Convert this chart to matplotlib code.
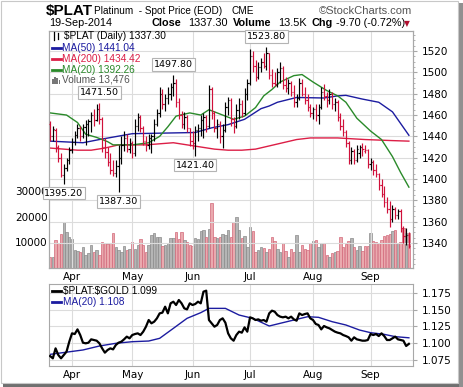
import numpy as np
import pandas as pd
import matplotlib
matplotlib.use("Agg")
import matplotlib.pyplot as plt
from matplotlib.patches import Rectangle
from matplotlib.lines import Line2D

W, H = 464, 387

# ---- data ----
dates = pd.bdate_range("2014-03-20", "2014-09-19")  # 132 sessions
month_names = ["Apr", "May", "Jun", "Jul", "Aug", "Sep"]

opens = [1452, 1440, 1446, 1430, 1420, 1404, 1410, 1418, 1427, 1435,
         1441, 1448, 1440, 1449, 1452, 1454, 1460, 1455, 1466, 1456,
         1430, 1425, 1416, 1408, 1406, 1412, 1420, 1432, 1438, 1428,
         1434, 1424, 1450, 1458, 1448, 1436, 1432, 1438, 1440, 1452,
         1462, 1480, 1470, 1476, 1480, 1486, 1490, 1472, 1460, 1452,
         1458, 1448, 1436, 1434, 1446, 1448, 1455, 1458, 1450, 1484,
         1462, 1448, 1452, 1440, 1446, 1468, 1474, 1456, 1450, 1465,
         1470, 1462, 1480, 1490, 1515, 1506, 1496, 1505, 1510, 1506,
         1518, 1498, 1490, 1489, 1500, 1504, 1488, 1485, 1490, 1482,
         1472, 1476, 1490, 1480, 1474, 1468, 1462, 1466, 1460, 1468,
         1482, 1478, 1474, 1480, 1470, 1472, 1458, 1450, 1444, 1434,
         1418, 1426, 1418, 1424, 1430, 1426, 1427, 1414, 1416, 1408,
         1405, 1394, 1386, 1378, 1372, 1362, 1372, 1366, 1370, 1354,
         1346, 1347]
highs = [1454, 1450, 1448, 1432, 1424, 1414, 1420, 1430, 1438, 1445,
         1452, 1450, 1452, 1455, 1456, 1463, 1466, 1470, 1471.5, 1458,
         1438, 1430, 1424, 1418, 1418, 1432, 1440, 1445, 1442, 1438,
         1436, 1456, 1462, 1460, 1450, 1440, 1442, 1442, 1456, 1466,
         1486, 1484, 1480, 1486, 1490, 1497.8, 1494, 1476, 1464, 1463,
         1460, 1448, 1445, 1450, 1452, 1460, 1462, 1460, 1488, 1486,
         1464, 1456, 1454, 1452, 1472, 1477, 1476, 1458, 1470, 1476,
         1474, 1485, 1494, 1522, 1520, 1512, 1510, 1514, 1518, 1523.8,
         1518, 1503, 1500, 1504, 1510, 1506, 1496, 1494, 1492, 1488,
         1480, 1495, 1494, 1486, 1480, 1470, 1468, 1470, 1470, 1486,
         1489, 1482, 1484, 1482, 1476, 1474, 1462, 1456, 1446, 1436,
         1430, 1428, 1432, 1432, 1434, 1432, 1428, 1420, 1418, 1414,
         1406, 1400, 1393, 1383, 1379, 1376, 1374, 1372, 1372, 1356,
         1354, 1350]
lows = [1436, 1436, 1425, 1416, 1402, 1395.2, 1407, 1414, 1424, 1432,
        1438, 1436, 1438, 1432, 1440, 1444, 1450, 1454, 1452, 1425,
        1420, 1412, 1405, 1403, 1402, 1387.3, 1414, 1426, 1425, 1424,
        1420, 1422, 1445, 1444, 1432, 1426, 1428, 1424, 1436, 1450,
        1458, 1466, 1464, 1470, 1474, 1478, 1468, 1456, 1448, 1447,
        1444, 1431, 1428, 1421.4, 1436, 1440, 1438, 1444, 1448, 1456,
        1444, 1438, 1434, 1429, 1444, 1460, 1450, 1443, 1448, 1456,
        1458, 1460, 1474, 1488, 1500, 1492, 1494, 1500, 1504, 1502,
        1494, 1486, 1487, 1486, 1490, 1484, 1482, 1480, 1478, 1468,
        1468, 1474, 1478, 1470, 1464, 1458, 1456, 1454, 1452, 1466,
        1474, 1468, 1470, 1466, 1464, 1454, 1446, 1440, 1430, 1414,
        1414, 1414, 1416, 1420, 1422, 1424, 1410, 1408, 1404, 1402,
        1390, 1383, 1374, 1368, 1355, 1360, 1362, 1362, 1350, 1340,
        1338, 1335]
closes = [1440, 1447, 1430, 1420, 1404, 1410, 1418, 1427, 1435, 1441,
          1448, 1440, 1449, 1452, 1454, 1460, 1455, 1466, 1456, 1430,
          1425, 1416, 1408, 1406, 1412, 1420, 1432, 1438, 1428, 1434,
          1424, 1450, 1458, 1448, 1436, 1432, 1438, 1440, 1452, 1462,
          1480, 1470, 1476, 1480, 1486, 1490, 1472, 1460, 1452, 1458,
          1448, 1436, 1434, 1446, 1448, 1455, 1458, 1450, 1484, 1462,
          1448, 1452, 1440, 1446, 1468, 1474, 1456, 1450, 1465, 1470,
          1462, 1480, 1490, 1515, 1506, 1496, 1505, 1510, 1506, 1518,
          1498, 1490, 1489, 1500, 1504, 1488, 1485, 1490, 1482, 1472,
          1476, 1490, 1480, 1474, 1468, 1462, 1466, 1460, 1468, 1482,
          1478, 1474, 1480, 1470, 1472, 1458, 1450, 1444, 1434, 1418,
          1426, 1418, 1428, 1430, 1428, 1427, 1414, 1416, 1408, 1405,
          1394, 1386, 1378, 1372, 1362, 1372, 1366, 1370, 1354, 1346,
          1347, 1337.3]
volume = [4440, 4440, 10980, 9670, 13330, 18040, 13980, 12020, 11370, 7060,
          6800, 6400, 8360, 5100, 5750, 9020, 6400, 7060, 5100, 10330,
          9930, 9410, 9930, 13590, 8360, 7060, 6400, 8630, 7060, 7320,
          10330, 7320, 9020, 11370, 9020, 6400, 9020, 12940, 13590, 12290,
          12290, 8630, 9020, 9670, 11630, 11630, 14120, 11500, 14120, 10980,
          10330, 9020, 8630, 11630, 11500, 14250, 14900, 12020, 15160, 25360,
          12020, 11630, 12290, 13330, 12940, 14640, 12290, 18040, 19870, 14900,
          11630, 12550, 8360, 15950, 14510, 6400, 7060, 8360, 7710, 6400,
          7320, 12290, 10720, 7320, 6400, 9670, 6800, 4180, 7320, 6400,
          12810, 6400, 8890, 7580, 7060, 9670, 10720, 10980, 8360, 9670,
          9670, 5100, 4440, 5750, 6400, 6800, 12020, 8360, 9410, 10720,
          11630, 8360, 7060, 8630, 6800, 8630, 8630, 13590, 10720, 10330,
          9930, 10980, 12550, 12810, 13330, 14250, 14900, 9930, 10330, 15550,
          13590, 13476]

# moving averages (session index, value)
ma50_idx = [0, 12, 18, 30, 53, 59, 65, 71, 77, 80, 83, 90, 100, 105, 108, 114, 120, 125, 131]
ma50_val = [1435.5, 1434, 1437, 1442.5, 1443.6, 1448, 1451, 1456, 1466, 1468.5, 1472,
            1476.5, 1476, 1478, 1478.5, 1475, 1472, 1463, 1441.0]
ma200_idx = [0, 10, 15, 20, 25, 35, 45, 50, 55, 60, 65, 70, 75, 80, 85, 90, 95, 105, 115, 125, 131]
ma200_val = [1429, 1427, 1427, 1429, 1432, 1432, 1434, 1432, 1430, 1428, 1427, 1427, 1428,
             1431, 1434, 1437, 1438.5, 1438.5, 1437, 1436, 1435.5]
ma20_idx = [0, 6, 10, 13, 17, 21, 23, 30, 36, 40, 43, 46, 51, 55, 58, 63, 67, 71, 75, 78,
            81, 84, 89, 92, 96, 101, 105, 108, 112, 117, 121, 125, 128, 131]
ma20_val = [1462, 1460, 1453, 1442, 1439, 1435, 1432, 1432, 1434, 1440, 1449, 1459, 1462,
            1460, 1465, 1460, 1456, 1459, 1467, 1478, 1484, 1491, 1497, 1498, 1491, 1483,
            1478, 1472, 1457, 1445, 1437, 1421, 1406, 1392.3]

ratio = [1.0809, 1.0775, 1.0923, 1.0824, 1.0775, 1.0824, 1.0874, 1.1022, 1.1146, 1.1136,
         1.1205, 1.1121, 1.1007, 1.0998, 1.1007, 1.1057, 1.1047, 1.1037, 1.0998, 1.0923,
         1.0859, 1.0899, 1.0923, 1.0908, 1.0973, 1.1007, 1.1022, 1.1057, 1.1097, 1.1072,
         1.1121, 1.1136, 1.1146, 1.1121, 1.1171, 1.1245, 1.1344, 1.1295, 1.1319, 1.1369,
         1.1443, 1.1453, 1.1542, 1.1443, 1.1592, 1.1616, 1.1567, 1.1641, 1.1592, 1.1517,
         1.1502, 1.1592, 1.1567, 1.1582, 1.1616, 1.1592, 1.1765, 1.1780, 1.1344, 1.1295,
         1.1245, 1.1270, 1.1344, 1.1369, 1.1304, 1.1146, 1.1072, 1.1037, 1.1121, 1.1171,
         1.1156, 1.1235, 1.1171, 1.1384, 1.1369, 1.1344, 1.1354, 1.1334, 1.1344, 1.1319,
         1.1443, 1.1483, 1.1468, 1.1418, 1.1394, 1.1384, 1.1394, 1.1369, 1.1394, 1.1354,
         1.1334, 1.1443, 1.1418, 1.1433, 1.1443, 1.1369, 1.1344, 1.1285, 1.1270, 1.1205,
         1.1255, 1.1235, 1.1220, 1.1196, 1.1171, 1.1156, 1.1146, 1.1121, 1.1106, 1.1087,
         1.1037, 1.1087, 1.1057, 1.1047, 1.1037, 1.1037, 1.1047, 1.1136, 1.1121, 1.1136,
         1.1106, 1.1146, 1.1106, 1.1047, 1.1047, 1.1072, 1.1097, 1.1057, 1.1047, 1.1037,
         1.0958, 1.0990]
ratio_ma_idx = [0, 12, 18, 24, 30, 36, 40, 45, 50, 55, 58, 64, 69, 74, 80, 84, 89, 94, 98,
                103, 108, 113, 117, 122, 126, 131]
ratio_ma_val = [1.0834, 1.0899, 1.0958, 1.0998, 1.1022, 1.1032, 1.1072, 1.1220, 1.1369,
                1.1453, 1.1517, 1.1517, 1.1418, 1.1369, 1.1255, 1.1295, 1.1344, 1.1393,
                1.1384, 1.1319, 1.1270, 1.1195, 1.1156, 1.1131, 1.1097, 1.1080]

highlights = [(18, 1471.50, "up"), (45, 1497.80, "up"), (79, 1523.80, "up"),
              (5, 1395.20, "down"), (25, 1387.30, "down"), (53, 1421.40, "down")]

# ---- styling ----
RED = "#d0103a"
NAVY = "#1c1ca0"
CRIMSON = "#dc1e46"
GREEN = "#2a8a2a"
GRID = "#dcdcdc"
SPINE = "#a8a8a8"
TICKFONT = "DejaVu Sans"
NARROW = ["Liberation Sans Narrow", "Liberation Sans"]

x = np.arange(len(dates))
closes_a = np.array(closes)
prev = np.concatenate([[opens[0]], closes_a[:-1]])
down = closes_a < prev
bar_col = np.where(down, RED, "black")

month_idx = [int(np.argmax(dates.month == m)) for m in range(4, 10)]

fig = plt.figure(figsize=(W / 100, H / 100), dpi=100)
fig.patch.set_facecolor("white")


def ftext(px, py, s, **kw):
    kw.setdefault("va", "center")
    kw.setdefault("ha", "left")
    fig.text(px / W, 1 - py / H, s, **kw)


def box(left, top, right, bottom):
    return [left / W, 1 - bottom / H, (right - left) / W, (bottom - top) / H]


# frame with drop shadow (kept behind the axes)
fig.patches.append(Rectangle((3 / W, 0), (W - 3) / W, 4 / H, transform=fig.transFigure,
                             fc="#707070", ec="none", zorder=-3))
fig.patches.append(Rectangle(((W - 5) / W, 0), 5 / W, (H - 3) / H, transform=fig.transFigure,
                             fc="#909090", ec="none", zorder=-3))
fig.patches.append(Rectangle((0.5 / W, 4 / H), (W - 6) / W, (H - 5) / H, transform=fig.transFigure,
                             fc="white", ec="#c8c8c8", lw=0.8, zorder=-2))

# ---- main panel ----
ax_v = fig.add_axes(box(49, 31, 413, 268))
ax_p = ax_v.twinx()

vfill = np.where(down, "#eaa9ae", "#b5b5b5")
vedge = np.where(down, "#d2687a", "#8a8a8a")
ax_v.bar(x, volume, width=0.88, color=vfill, edgecolor=vedge, linewidth=0.5, zorder=1)
ax_v.set_ylim(0, 92500)
ax_v.set_yticks([10000, 20000, 30000])
ax_v.set_yticklabels(["10000", "20000", "30000"])
ax_v.tick_params(axis="y", length=0, pad=1, labelsize=7.5, labelfontfamily=TICKFONT)
ax_v.set_xlim(-0.4, 132.5)
ax_v.set_xticks(month_idx)
ax_v.set_xticklabels(month_names)
ax_v.tick_params(axis="x", length=0, pad=3, labelsize=7.5, labelfontfamily=TICKFONT)

ax_p.set_ylim(1316.4, 1538.9)
ax_p.set_yticks(np.arange(1340, 1521, 20))
ax_p.set_yticks(np.arange(1320, 1540, 5), minor=True)
ax_p.tick_params(axis="y", which="major", length=3, color=SPINE, pad=3, labelsize=7.5,
                 labelfontfamily=TICKFONT)
ax_p.tick_params(axis="y", which="minor", length=1.5, color=SPINE)
ax_p.grid(axis="y", color=GRID, lw=0.8, zorder=0)
for m in month_idx:
    ax_p.axvline(m, color=GRID, lw=0.8, zorder=0)

# OHLC bars
ax_p.vlines(x, lows, highs, colors=bar_col, lw=0.85, zorder=3)
ax_p.hlines(opens, x - 0.45, x, colors=bar_col, lw=0.85, zorder=3)
ax_p.hlines(closes, x, x + 0.45, colors=bar_col, lw=0.85, zorder=3)

ax_p.plot(ma200_idx, ma200_val, color=CRIMSON, lw=1.0, zorder=2)
ax_p.plot(ma50_idx, ma50_val, color=NAVY, lw=1.0, zorder=2)
ax_p.plot(ma20_idx, ma20_val, color=GREEN, lw=1.0, zorder=2)

for i, val, side in highlights:
    off = 7.5 if side == "up" else -6.5
    ax_p.annotate(f"{val:.2f}", xy=(i, val), xytext=(0, off), textcoords="offset points",
                  ha="center", va="center", fontsize=6.8, family=TICKFONT, zorder=6,
                  bbox=dict(boxstyle="square,pad=0.18", fc="white", ec="#b4b4b4", lw=0.8))

for sp in list(ax_v.spines.values()) + list(ax_p.spines.values()):
    sp.set_color(SPINE)
    sp.set_linewidth(0.8)

# legend block of the main panel
leg_rows = [
    (36, "$PLAT (Daily) 1337.30", "black", None),
    (48, "MA(50) 1441.04", NAVY, NAVY),
    (59, "MA(200) 1434.42", CRIMSON, CRIMSON),
    (70, "MA(20) 1392.26", GREEN, GREEN),
    (80, "Volume 13,476", "#555555", None),
]
for py, label, col, line_col in leg_rows:
    ftext(64 if py == 36 else 62, py, label, color=col, fontsize=7.3, family=NARROW)
    if line_col is not None:
        fig.lines.append(Line2D([52 / W, 61 / W], [1 - py / H] * 2, transform=fig.transFigure,
                                color=line_col, lw=2))
# small OHLC glyph and volume glyph
for gx, gy0, gy1 in [(54, 32, 40), (58, 33, 39)]:
    fig.lines.append(Line2D([gx / W] * 2, [1 - gy0 / H, 1 - gy1 / H], transform=fig.transFigure,
                            color="black", lw=0.9))
for k, hh in enumerate([5, 7, 6, 4]):
    fig.patches.append(Rectangle(((52 + 2.2 * k) / W, 1 - 84 / H), 1.6 / W, hh / H,
                                 transform=fig.transFigure, fc="#777777", ec="none"))

# ---- ratio panel ----
ax_r = fig.add_axes(box(49, 284, 413, 366))
ax_r.set_xlim(-0.4, 132.5)
ax_r.set_ylim(1.0661, 1.1879)
ax_r.yaxis.tick_right()
ax_r.set_yticks([1.075, 1.100, 1.125, 1.150, 1.175])
ax_r.set_yticklabels(["1.075", "1.100", "1.125", "1.150", "1.175"])
ax_r.tick_params(axis="y", length=3, color=SPINE, pad=3, labelsize=7.5, labelfontfamily=TICKFONT)
ax_r.set_xticks(month_idx)
ax_r.set_xticklabels(month_names)
ax_r.tick_params(axis="x", length=0, pad=3, labelsize=7.5, labelfontfamily=TICKFONT)
ax_r.grid(color=GRID, lw=0.8, zorder=0)
ax_r.plot(ratio_ma_idx, ratio_ma_val, color=NAVY, lw=1.0, zorder=2)
ax_r.plot(x, ratio, color="black", lw=1.6, zorder=3)
for sp in ax_r.spines.values():
    sp.set_color(SPINE)
    sp.set_linewidth(0.8)

ftext(63, 291, r"\$PLAT:\$GOLD 1.099", color="black", fontsize=7.3, family=NARROW)
ftext(63, 302, "MA(20) 1.108", color=NAVY, fontsize=7.3, family=NARROW)
fig.lines.append(Line2D([52 / W, 61 / W], [1 - 291 / H] * 2, transform=fig.transFigure,
                        color="black", lw=2))
fig.lines.append(Line2D([52 / W, 61 / W], [1 - 302 / H] * 2, transform=fig.transFigure,
                        color=NAVY, lw=2))

# ---- header ----
ftext(46, 11, "$PLAT", fontsize=11, fontweight="bold", family="Liberation Sans")
ftext(94, 11, "Platinum  - Spot Price (EOD)", fontsize=7.2, family="Liberation Sans")
ftext(232, 11, "CME", fontsize=7.2, family="Liberation Sans")
ftext(412, 11, "\u00a9StockCharts.com", fontsize=8, family="Liberation Sans", color="#555555",
      ha="right")
ftext(49, 23, "19-Sep-2014", fontsize=7.8, family="Liberation Sans")
ftext(152, 23, "Close", fontsize=7.8, fontweight="bold", family="Liberation Sans")
ftext(188, 23, "1337.30", fontsize=7.8, family="Liberation Sans")
ftext(233, 23, "Volume", fontsize=7.8, fontweight="bold", family="Liberation Sans")
ftext(278, 23, "13.5K", fontsize=7.8, family="Liberation Sans")
ftext(312, 23, "Chg", fontsize=7.8, fontweight="bold", family="Liberation Sans")
ftext(336, 23, "-9.70 (-0.72%)", fontsize=7.8, family="Liberation Sans")
ftext(404, 23.5, "\u25bc", fontsize=5.5, color="#b01030", family="DejaVu Sans")

fig.savefig("out.png", dpi=100)
